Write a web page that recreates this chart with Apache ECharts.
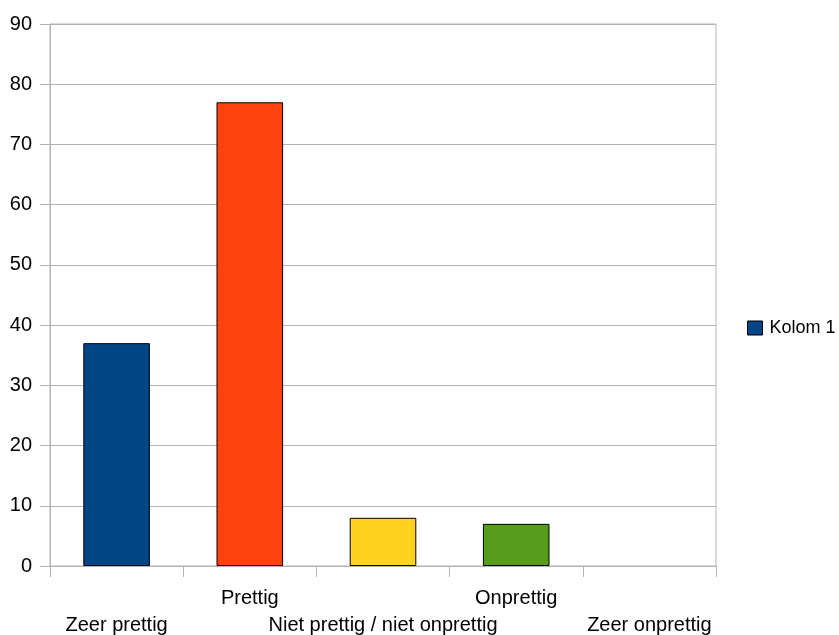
<!DOCTYPE html>
<html>
<head>
<meta charset="utf-8">
<script src="https://cdn.jsdelivr.net/npm/echarts@6/dist/echarts.min.js"></script>
<style>html,body{margin:0;padding:0;background:#fff;overflow:hidden;}#c{width:839px;height:635px;}</style>
</head>
<body>
<div id="c"></div>
<script>
const categories = ['Zeer prettig', 'Prettig', 'Niet prettig / niet onprettig', 'Onprettig', 'Zeer onprettig'];
const values = [37, 77, 8, 7, 0];
const barColors = ['#004586', '#ff420e', '#ffd320', '#579d1c', '#7e0021'];
const seriesName = 'Kolom 1';

const FONT = 'Liberation Sans, Arial, sans-serif';
const chart = echarts.init(document.getElementById('c'));
chart.setOption({
  animation: false,
  textStyle: { fontFamily: FONT },
  grid: {
    left: 50, right: 123, top: 24, bottom: 69,
    show: true, borderColor: '#b3b3b3', borderWidth: 1,
    containLabel: false, outerBoundsMode: 'none'
  },
  legend: {
    data: [seriesName],
    orient: 'vertical',
    left: 747, top: 319, padding: 0,
    icon: 'rect', itemWidth: 15, itemHeight: 14, itemGap: 5,
    textStyle: { fontSize: 18, lineHeight: 14, color: '#000', fontFamily: FONT, padding: [0, 0, 0, 2] },
    itemStyle: { borderColor: '#000', borderWidth: 1 }
  },
  xAxis: {
    type: 'category',
    data: categories,
    axisLine: { lineStyle: { color: '#b3b3b3' } },
    axisTick: { show: true, length: 11, lineStyle: { color: '#b3b3b3' } },
    axisLabel: {
      interval: 0, margin: 19, fontSize: 20, color: '#000', lineHeight: 27, verticalAlign: 'top',
      fontFamily: FONT, hideOverlap: false,
      formatter: function (v, i) { return i % 2 === 0 ? '\n' + v : v; }
    }
  },
  yAxis: {
    type: 'value', min: 0, max: 90, interval: 10,
    axisLine: { show: true, lineStyle: { color: '#b3b3b3' } },
    axisTick: { show: true, length: 10, lineStyle: { color: '#b3b3b3' } },
    axisLabel: { margin: 18, fontSize: 20, color: '#000', fontFamily: FONT },
    splitLine: { lineStyle: { color: '#b3b3b3' } }
  },
  series: [{
    name: seriesName,
    type: 'bar',
    barWidth: '50%',
    itemStyle: { color: barColors[0], borderColor: '#000', borderWidth: 1 },
    data: values.map((v, i) => ({
      value: v,
      itemStyle: { color: barColors[i], borderWidth: v === 0 ? 0 : 1 }
    }))
  }]
});
</script>
</body>
</html>
